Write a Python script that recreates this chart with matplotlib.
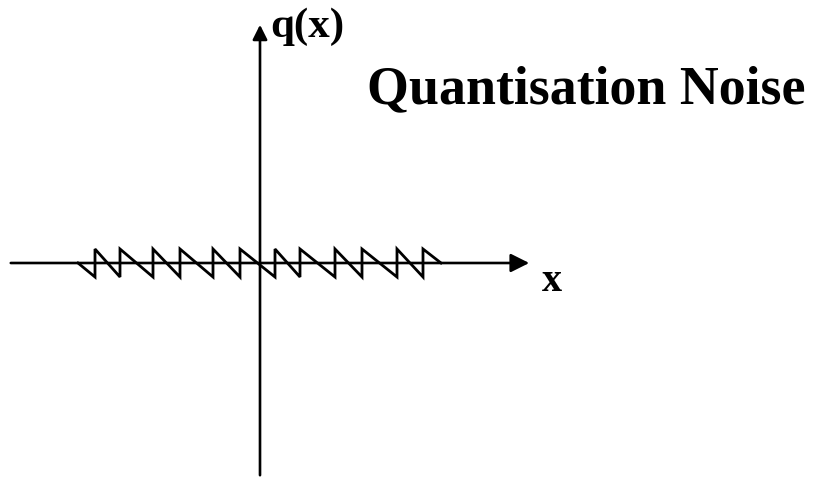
import numpy as np
import matplotlib.pyplot as plt

# sawtooth quantisation error, units in pixels relative to the origin
start_x = -182
end_x = 181
jump_x = [-165, -140, -107, -80, -47, -20, 15, 40, 75, 102, 137, 163]
amp = 14

# build the sawtooth path: diagonal down to -amp, vertical jump up to +amp
xs = [start_x]
ys = [0]
for j in jump_x:
    xs += [j, j]
    ys += [-amp, amp]
xs.append(end_x)
ys.append(0)

fig = plt.figure(figsize=(8.15, 4.94), dpi=100)
ax = fig.add_axes([0, 0, 1, 1])
ax.set_xlim(-260, 555)
ax.set_ylim(-231, 263)
ax.axis('off')

# axes with arrows
ax.annotate('', xy=(272, 0), xytext=(-252, 0),
            arrowprops=dict(arrowstyle='-|>', lw=1.9, color='black', mutation_scale=28))
ax.annotate('', xy=(0, 241), xytext=(0, -215),
            arrowprops=dict(arrowstyle='-|>', lw=1.9, color='black', mutation_scale=22))

ax.plot(xs, ys, color='black', lw=2.0, solid_joinstyle='miter')

font = dict(family='Liberation Serif', weight='bold', color='black')
ax.text(10, 226, 'q(x)', fontsize=31, ha='left', va='baseline', **font)
ax.text(282, -28, 'x', fontsize=29, ha='left', va='baseline', **font)
ax.text(107, 160, 'Quantisation Noise', fontsize=38.8, ha='left', va='baseline', **font)

fig.savefig('out.png', dpi=100)
